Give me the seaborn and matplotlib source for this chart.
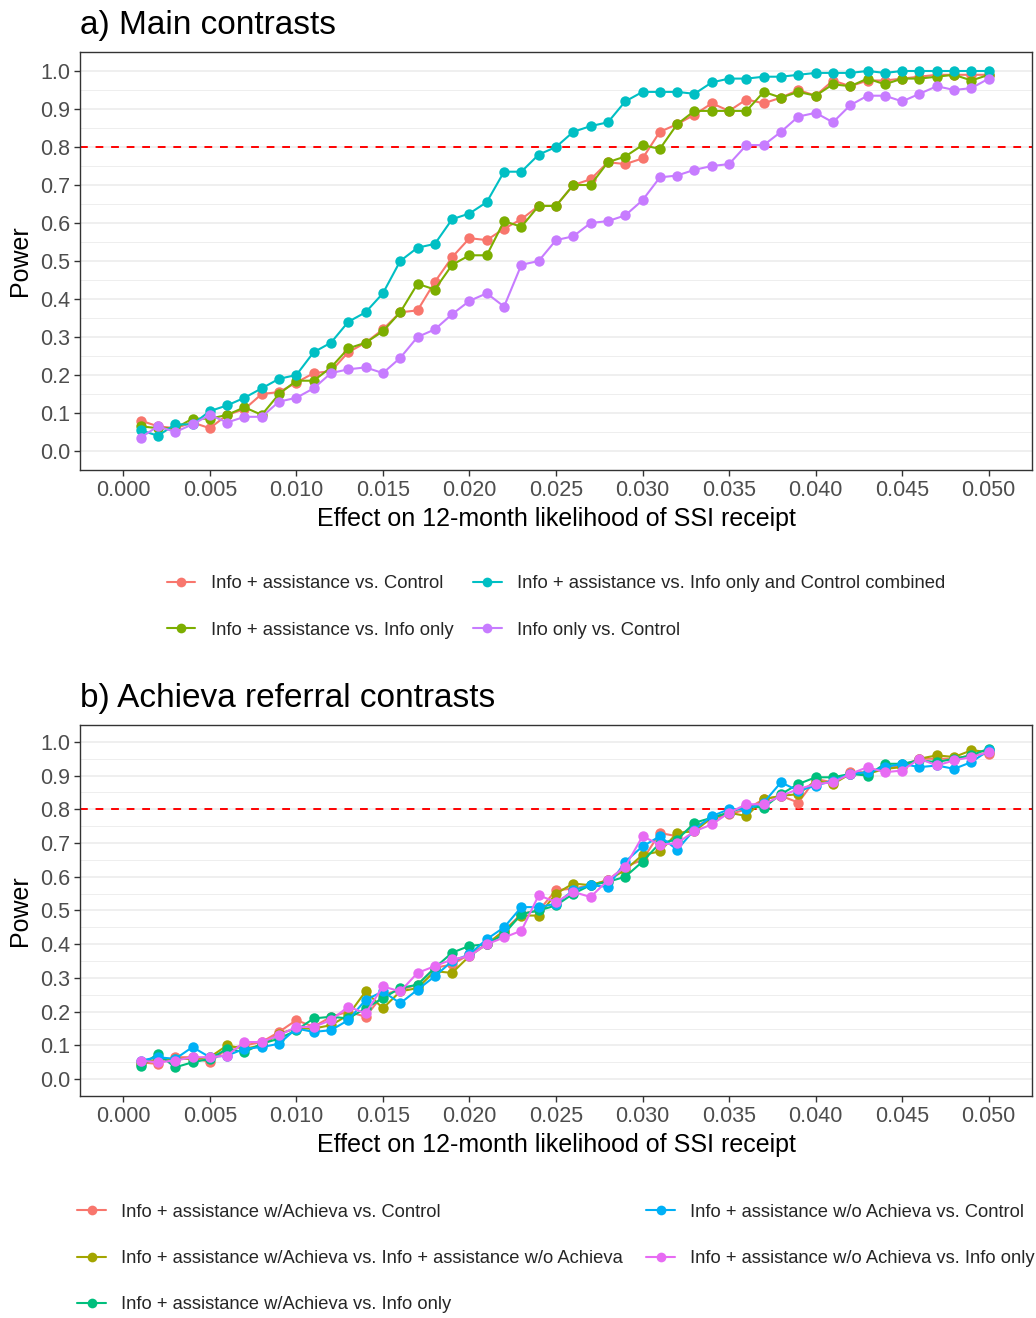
import numpy as np
import pandas as pd
import matplotlib
matplotlib.use("Agg")
import matplotlib.pyplot as plt
from matplotlib.lines import Line2D
from matplotlib.ticker import MultipleLocator
import seaborn as sns

effect = [round(0.001 * i, 3) for i in range(1, 51)]

# ---- Panel a) Main contrasts ----
a_labels = [
    "Info + assistance vs. Control",
    "Info + assistance vs. Info only",
    "Info + assistance vs. Info only and Control combined",
    "Info only vs. Control",
]
a_colors = ["#F8766D", "#7CAE00", "#00BFC4", "#C77CFF"]

a_ia_ctrl = [0.080, 0.065, 0.060, 0.075, 0.060, 0.095, 0.110, 0.150, 0.155, 0.180,
             0.205, 0.210, 0.260, 0.285, 0.320, 0.365, 0.370, 0.445, 0.510, 0.560,
             0.555, 0.585, 0.610, 0.645, 0.645, 0.700, 0.715, 0.760, 0.755, 0.770,
             0.840, 0.860, 0.885, 0.915, 0.895, 0.925, 0.915, 0.930, 0.950, 0.935,
             0.975, 0.960, 0.975, 0.975, 0.980, 0.985, 0.990, 0.990, 0.990, 0.990]
a_ia_info = [0.065, 0.060, 0.060, 0.085, 0.085, 0.095, 0.115, 0.095, 0.150, 0.185,
             0.185, 0.220, 0.270, 0.285, 0.315, 0.365, 0.440, 0.425, 0.490, 0.515,
             0.515, 0.605, 0.590, 0.645, 0.645, 0.700, 0.700, 0.760, 0.775, 0.805,
             0.795, 0.860, 0.895, 0.895, 0.895, 0.895, 0.945, 0.930, 0.945, 0.935,
             0.965, 0.960, 0.980, 0.965, 0.980, 0.980, 0.985, 0.990, 0.975, 0.990]
a_ia_comb = [0.055, 0.040, 0.070, 0.070, 0.105, 0.120, 0.140, 0.165, 0.190, 0.200,
             0.260, 0.285, 0.340, 0.365, 0.415, 0.500, 0.535, 0.545, 0.610, 0.625,
             0.655, 0.735, 0.735, 0.780, 0.800, 0.840, 0.855, 0.865, 0.920, 0.945,
             0.945, 0.945, 0.940, 0.970, 0.980, 0.980, 0.985, 0.985, 0.990, 0.995,
             0.995, 0.995, 1.000, 0.995, 1.000, 1.000, 1.000, 1.000, 1.000, 1.000]
a_info_ctrl = [0.035, 0.065, 0.050, 0.070, 0.095, 0.075, 0.090, 0.090, 0.130, 0.140,
               0.165, 0.205, 0.215, 0.220, 0.205, 0.245, 0.300, 0.320, 0.360, 0.395,
               0.415, 0.380, 0.490, 0.500, 0.555, 0.565, 0.600, 0.605, 0.620, 0.660,
               0.720, 0.725, 0.740, 0.750, 0.755, 0.805, 0.805, 0.840, 0.880, 0.890,
               0.865, 0.910, 0.935, 0.935, 0.920, 0.940, 0.960, 0.950, 0.955, 0.980]

# ---- Panel b) Achieva referral contrasts ----
b_labels = [
    "Info + assistance w/Achieva vs. Control",
    "Info + assistance w/Achieva vs. Info + assistance w/o Achieva",
    "Info + assistance w/Achieva vs. Info only",
    "Info + assistance w/o Achieva vs. Control",
    "Info + assistance w/o Achieva vs. Info only",
]
b_colors = ["#F8766D", "#A3A500", "#00BF7D", "#00B0F6", "#E76BF3"]

b_w_ctrl = [0.050, 0.045, 0.065, 0.065, 0.050, 0.090, 0.100, 0.110, 0.140, 0.175,
            0.155, 0.185, 0.200, 0.185, 0.250, 0.265, 0.280, 0.330, 0.340, 0.370,
            0.400, 0.440, 0.490, 0.500, 0.560, 0.565, 0.575, 0.590, 0.630, 0.650,
            0.730, 0.720, 0.750, 0.770, 0.785, 0.800, 0.830, 0.840, 0.820, 0.890,
            0.880, 0.910, 0.910, 0.920, 0.930, 0.950, 0.950, 0.950, 0.960, 0.965]
b_w_wo = [0.045, 0.060, 0.060, 0.060, 0.065, 0.100, 0.090, 0.100, 0.135, 0.150,
          0.150, 0.160, 0.190, 0.260, 0.210, 0.260, 0.270, 0.320, 0.315, 0.365,
          0.400, 0.440, 0.485, 0.485, 0.550, 0.580, 0.575, 0.590, 0.620, 0.665,
          0.675, 0.730, 0.735, 0.775, 0.790, 0.780, 0.830, 0.840, 0.845, 0.885,
          0.875, 0.905, 0.905, 0.920, 0.925, 0.950, 0.960, 0.955, 0.975, 0.970]
b_w_info = [0.040, 0.075, 0.035, 0.050, 0.060, 0.090, 0.080, 0.105, 0.120, 0.145,
            0.180, 0.185, 0.180, 0.210, 0.240, 0.270, 0.280, 0.330, 0.375, 0.395,
            0.400, 0.430, 0.490, 0.500, 0.515, 0.550, 0.575, 0.585, 0.600, 0.645,
            0.700, 0.710, 0.760, 0.775, 0.790, 0.810, 0.805, 0.845, 0.875, 0.895,
            0.895, 0.905, 0.900, 0.935, 0.935, 0.945, 0.940, 0.950, 0.960, 0.980]
b_wo_ctrl = [0.055, 0.065, 0.060, 0.095, 0.065, 0.070, 0.090, 0.095, 0.105, 0.150,
             0.140, 0.145, 0.175, 0.235, 0.260, 0.225, 0.265, 0.305, 0.350, 0.370,
             0.415, 0.450, 0.510, 0.510, 0.520, 0.560, 0.575, 0.570, 0.645, 0.690,
             0.720, 0.680, 0.740, 0.780, 0.800, 0.800, 0.820, 0.880, 0.855, 0.870,
             0.885, 0.905, 0.910, 0.925, 0.935, 0.925, 0.930, 0.920, 0.940, 0.975]
b_wo_info = [0.055, 0.050, 0.055, 0.065, 0.065, 0.070, 0.110, 0.110, 0.130, 0.155,
             0.155, 0.175, 0.215, 0.195, 0.275, 0.260, 0.315, 0.335, 0.355, 0.365,
             0.400, 0.420, 0.440, 0.545, 0.525, 0.555, 0.540, 0.590, 0.630, 0.720,
             0.695, 0.700, 0.735, 0.755, 0.790, 0.815, 0.815, 0.840, 0.860, 0.875,
             0.880, 0.905, 0.925, 0.910, 0.915, 0.950, 0.930, 0.945, 0.955, 0.970]

x_ticks = [0.000, 0.005, 0.010, 0.015, 0.020, 0.025, 0.030, 0.035, 0.040, 0.045, 0.050]
y_ticks = [0.0, 0.1, 0.2, 0.3, 0.4, 0.5, 0.6, 0.7, 0.8, 0.9, 1.0]
threshold = 0.8


def long_df(labels, series):
    frames = []
    for lab, vals in zip(labels, series):
        frames.append(pd.DataFrame({"effect": effect, "power": vals, "contrast": lab}))
    return pd.concat(frames, ignore_index=True)


df_a = long_df(a_labels, [a_ia_ctrl, a_ia_info, a_ia_comb, a_info_ctrl])
df_b = long_df(b_labels, [b_w_ctrl, b_w_wo, b_w_info, b_wo_ctrl, b_wo_info])

sns.set_theme(style="white")
plt.rcParams["font.family"] = ["Liberation Sans", "DejaVu Sans"]

W, H = 1036, 1318
fig = plt.figure(figsize=(W / 100, H / 100), dpi=100)
fig.patch.set_facecolor("white")


def axes_px(left, top, right, bottom):
    return fig.add_axes([left / W, 1 - bottom / H, (right - left) / W, (bottom - top) / H])


ax1 = axes_px(80, 52, 1032, 470)
ax2 = axes_px(80, 725, 1032, 1096)


def style_axes(ax, title):
    ax.set_xlim(-0.0025, 0.0525)
    ax.set_ylim(-0.05, 1.05)
    ax.set_xticks(x_ticks)
    ax.set_xticklabels([f"{t:.3f}" for t in x_ticks])
    ax.set_yticks(y_ticks)
    ax.set_yticklabels([f"{t:.1f}" for t in y_ticks])
    ax.yaxis.set_minor_locator(MultipleLocator(0.05))
    ax.grid(False)
    ax.grid(axis="y", which="major", color="#EBEBEB", linewidth=1.1, zorder=0)
    ax.grid(axis="y", which="minor", color="#EBEBEB", linewidth=0.6, zorder=0)
    ax.set_axisbelow(True)
    for s in ax.spines.values():
        s.set_color("#333333")
        s.set_linewidth(1.0)
    ax.tick_params(axis="both", which="major", length=4, width=1.0, color="#333333",
                   labelsize=15.5, labelcolor="#4D4D4D", pad=3, direction="out",
                   bottom=True, left=True)
    ax.tick_params(axis="y", which="minor", length=0)
    ax.set_xlabel("Effect on 12-month likelihood of SSI receipt", fontsize=18,
                  color="black", labelpad=4.5)
    ax.set_ylabel("Power", fontsize=18, color="black", labelpad=6)
    ax.set_title(title, loc="left", fontsize=24, color="black", pad=13)
    ax.axhline(threshold, color="#FF0000", linestyle=(0, (4, 4)), linewidth=1.4, zorder=1)


for ax, df, labels, colors, title in [
    (ax1, df_a, a_labels, a_colors, "a) Main contrasts"),
    (ax2, df_b, b_labels, b_colors, "b) Achieva referral contrasts"),
]:
    sns.lineplot(data=df, x="effect", y="power", hue="contrast", hue_order=labels,
                 palette=colors, marker="o", markersize=7.5, markeredgewidth=0,
                 linewidth=1.5, legend=False, ax=ax, zorder=3)
    style_axes(ax, title)

leg_kw = dict(frameon=False, fontsize=13.3, handlelength=1.55, handletextpad=0.82,
              labelspacing=1.6, columnspacing=1.08, ncol=2)

handles_a = [Line2D([0], [0], color=c, marker="o", markersize=7, markeredgewidth=0,
                    linewidth=1.5) for c in a_colors]
fig.legend(handles_a, a_labels, loc="center", bbox_to_anchor=(556 / W, 1 - 607 / H),
           **leg_kw)

handles_b = [Line2D([0], [0], color=c, marker="o", markersize=7, markeredgewidth=0,
                    linewidth=1.5) for c in b_colors]
leg_kw_b = dict(leg_kw)
leg_kw_b["fontsize"] = 13.2
leg_kw_b["columnspacing"] = 1.3
fig.legend(handles_b, b_labels, loc="center", bbox_to_anchor=(556 / W, 1 - 1258.5 / H),
           **leg_kw_b)

fig.savefig("out.png", dpi=100, facecolor="white")
